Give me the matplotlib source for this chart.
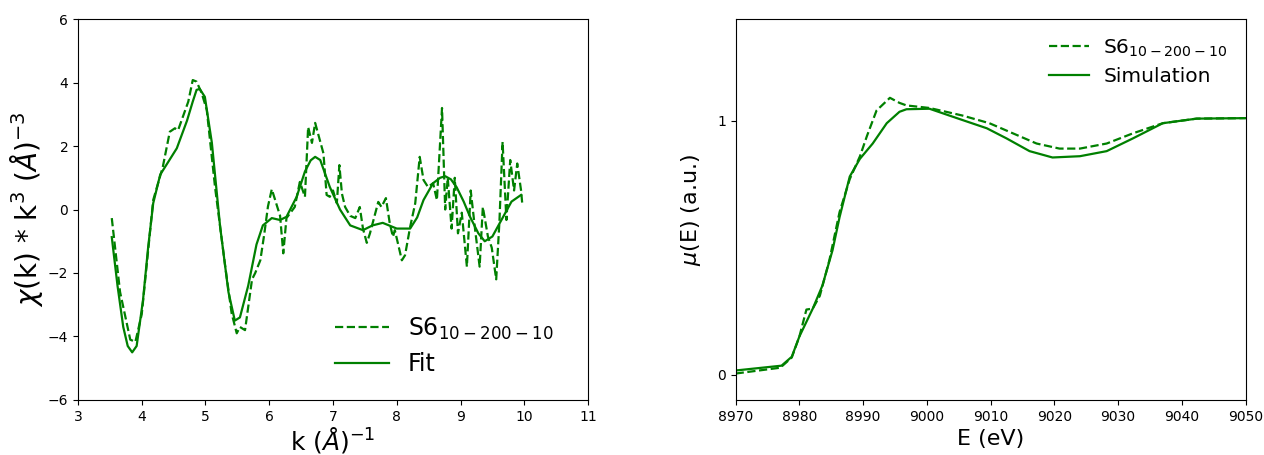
import matplotlib
matplotlib.use("Agg")
import matplotlib.pyplot as plt

# EXAFS chi(k)*k^3 - measured (dashed) and fit (solid)
k_exp = [3.53, 3.66, 3.82, 3.9, 4.0, 4.18, 4.33, 4.44, 4.52, 4.57, 4.73, 4.8, 4.86, 4.94,
         5.02, 5.15, 5.31, 5.41, 5.49, 5.54, 5.62, 5.73, 5.78, 5.86, 5.92, 5.98, 6.04,
         6.17, 6.22, 6.27, 6.40, 6.48, 6.56, 6.61, 6.67, 6.72, 6.85, 6.90, 6.95, 7.0,
         7.06, 7.1, 7.14, 7.19, 7.27, 7.35, 7.42, 7.47, 7.53, 7.58, 7.71, 7.76, 7.83,
         7.89, 7.94, 7.97, 8.08, 8.13, 8.21, 8.29, 8.36, 8.42, 8.49, 8.57, 8.63, 8.71,
         8.76, 8.8, 8.86, 8.91, 8.96, 9.02, 9.1, 9.16, 9.23, 9.3, 9.35, 9.43, 9.49,
         9.56, 9.61, 9.66, 9.72, 9.78, 9.84, 9.89, 9.95, 9.97]
chi_exp = [-0.27, -2.6, -4.1, -4.17, -3.3, 0.3, 1.34, 2.45, 2.56, 2.5, 3.4, 4.08, 4.03, 3.67,
           3.14, 0.7, -1.8, -3.27, -3.9, -3.7, -3.8, -2.2, -2.0, -1.6, -0.8, 0.1, 0.64,
           -0.2, -1.38, -0.27, 0.08, 0.87, 0.4, 2.6, 2.1, 2.73, 1.77, 0.46, 0.4, 0.6,
           0.2, 1.4, 0.5, 0.08, -0.2, -0.27, 0.08, -0.6, -1.05, -0.75, 0.24, 0.08, 0.36,
           -0.43, -0.86, -0.65, -1.6, -1.44, -0.55, 0.2, 1.66, 0.93, 0.71, 0.83, 0.3, 3.2,
           0.0, 1.0, -0.6, 1.0, -0.75, -0.1, -1.8, 0.6, -0.65, -1.8, 0.08, -0.85, -1.2,
           -2.2, -0.4, 2.13, -0.33, 1.56, 0.6, 1.45, 0.6, 0.15]

k_fit = [3.53, 3.62, 3.71, 3.78, 3.85, 3.92, 4.02, 4.1, 4.18, 4.29, 4.4, 4.55, 4.71, 4.8,
         4.86, 4.91, 4.99, 5.1, 5.23, 5.36, 5.46, 5.54, 5.67, 5.8, 5.9, 6.04, 6.17, 6.27,
         6.43, 6.56, 6.65, 6.72, 6.8, 6.95, 7.11, 7.27, 7.47, 7.62, 7.78, 8.0, 8.21,
         8.32, 8.42, 8.57, 8.68, 8.76, 8.85, 8.94, 9.05, 9.15, 9.28, 9.38, 9.5, 9.65,
         9.8, 9.95]
chi_fit = [-0.87, -2.4, -3.7, -4.3, -4.5, -4.3, -2.85, -1.2, 0.2, 1.1, 1.45, 1.93, 2.8, 3.4,
           3.77, 3.8, 3.55, 2.1, -0.55, -2.6, -3.5, -3.4, -2.4, -1.1, -0.5, -0.27, -0.33,
           -0.23, 0.4, 1.2, 1.55, 1.66, 1.56, 0.71, 0.0, -0.5, -0.65, -0.5, -0.42, -0.6,
           -0.6, -0.25, 0.3, 0.83, 1.0, 1.05, 0.95, 0.7, 0.25, -0.23, -0.75, -1.0, -0.85,
           -0.3, 0.25, 0.46]

# XANES mu(E) - measured (dashed) and simulation (solid)
e_exp = [8970, 8977, 8978.8, 8980, 8981.1, 8982.1, 8983.2, 8984.7, 8986.3, 8987.9, 8989.5,
         8990.6, 8992.1, 8994.2, 8995.7, 8996.8, 9000.4, 9005.6, 9009.8, 9013.5, 9017.2,
         9020.8, 9024, 9028.2, 9032.3, 9037, 9042.3, 9050]
mu_exp = [0.004, 0.027, 0.067, 0.15, 0.256, 0.26, 0.31, 0.45, 0.64, 0.77, 0.86,
          0.94, 1.04, 1.09, 1.07, 1.06, 1.05, 1.02, 0.99, 0.95, 0.91,
          0.89, 0.89, 0.91, 0.95, 0.99, 1.008, 1.01]

e_sim = [8970, 8977.2, 8978.8, 8980, 8982.1, 8983.6, 8985.2, 8986.3, 8987.9, 8989.5,
         8991.5, 8993.7, 8995.7, 8996.8, 9000.4, 9004.7, 9009.4, 9012.5, 9016.1, 9019.7,
         9024, 9028.2, 9032.3, 9037, 9042.3, 9050]
mu_sim = [0.016, 0.035, 0.07, 0.15, 0.26, 0.35, 0.49, 0.62, 0.78, 0.85,
          0.91, 0.99, 1.035, 1.045, 1.047, 1.01, 0.97, 0.93, 0.88, 0.855,
          0.86, 0.88, 0.93, 0.99, 1.008, 1.01]

fig = plt.figure(figsize=(12.64, 4.55), dpi=100)

# left: EXAFS
ax1 = fig.add_axes([0.0617, 0.121, 0.4035, 0.837])
ax1.plot(k_exp, chi_exp, '--', color='green', lw=1.6, label=r'S6$_{10-200-10}$')
ax1.plot(k_fit, chi_fit, '-', color='green', lw=1.6, label='Fit')
ax1.set_xlim(3, 11)
ax1.set_ylim(-6, 6)
ax1.set_xticks(range(3, 12))
ax1.set_yticks(range(-6, 7, 2))
ax1.tick_params(labelsize=10)
ax1.set_xlabel(r'k ($\AA$)$^{-1}$', fontsize=18, labelpad=1)
ax1.set_ylabel(r'$\chi$(k) * k$^3$ ($\AA$)$^{-3}$', fontsize=20, labelpad=2)
ax1.legend(loc='lower right', bbox_to_anchor=(0.978, 0.0), frameon=False, fontsize=17,
           borderaxespad=0.6, handlelength=2.3, labelspacing=0.45)

# right: XANES
ax2 = fig.add_axes([0.582, 0.121, 0.4035, 0.837])
ax2.plot(e_exp, mu_exp, '--', color='green', lw=1.6, label=r'S6$_{10-200-10}$')
ax2.plot(e_sim, mu_sim, '-', color='green', lw=1.6, label='Simulation')
ax2.set_xlim(8970, 9050)
ax2.set_ylim(-0.1, 1.4)
ax2.set_xticks(range(8970, 9051, 10))
ax2.set_yticks([0, 1])
ax2.tick_params(labelsize=10)
ax2.set_xlabel('E (eV)', fontsize=16, labelpad=4)
ax2.set_ylabel(r'$\mu$(E) (a.u.)', fontsize=16, labelpad=10)
ax2.legend(loc='upper right', frameon=False, fontsize=14.5, handlelength=2.0,
           handletextpad=0.7, labelspacing=0.4)

fig.savefig('out.png', dpi=100)
